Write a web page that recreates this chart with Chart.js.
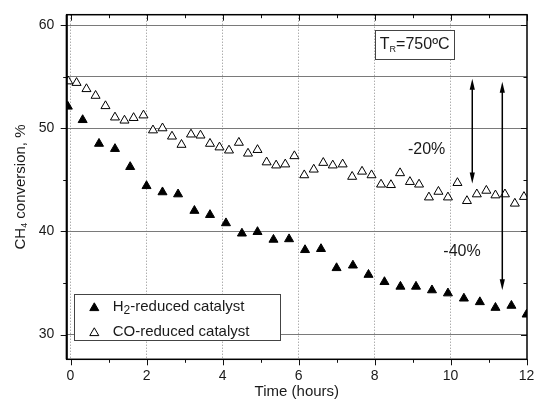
<!DOCTYPE html>
<html>
<head>
<meta charset="utf-8">
<script src="https://cdn.jsdelivr.net/npm/chart.js@4.4.0/dist/chart.umd.min.js"></script>
<style>
  body { margin: 0; background: #fff; }
  #wrap { width: 534px; height: 401px; }
</style>
</head>
<body>
<div id="wrap"><canvas id="convChart" width="534" height="401"></canvas></div>
<script>
// time on stream (hours) and CH4 conversion (%)
var h2Time = [-0.07, 0.32, 0.75, 1.17, 1.57, 2.0, 2.42, 2.83, 3.26, 3.67, 4.09, 4.51, 4.92, 5.34, 5.75,
              6.17, 6.59, 7.0, 7.43, 7.84, 8.26, 8.68, 9.09, 9.51, 9.93, 10.35, 10.77, 11.18, 11.6, 12.0];
var h2Conv = [52.1, 50.8, 48.5, 48.0, 46.25, 44.4, 43.8, 43.6, 42.0, 41.6, 40.8, 39.8, 39.95, 39.2, 39.25,
              38.2, 38.3, 36.45, 36.7, 35.8, 35.1, 34.65, 34.65, 34.3, 34.0, 33.5, 33.15, 32.6, 32.8, 31.95];

var coTime = [-0.06, 0.16, 0.42, 0.66, 0.92, 1.17, 1.42, 1.66, 1.92, 2.17, 2.42, 2.67, 2.92, 3.17, 3.42, 3.67,
              3.92, 4.17, 4.43, 4.67, 4.92, 5.16, 5.41, 5.65, 5.89, 6.15, 6.4, 6.65, 6.9, 7.16, 7.41, 7.67,
              7.92, 8.17, 8.43, 8.67, 8.93, 9.17, 9.43, 9.68, 9.93, 10.18, 10.43, 10.69, 10.94, 11.18, 11.43,
              11.69, 11.93];
var coConv = [54.55, 54.4, 53.8, 53.15, 52.15, 51.05, 50.75, 51.0, 51.25, 49.8, 50.0, 49.2, 48.4, 49.4, 49.3, 48.5,
              48.15, 47.85, 48.6, 47.55, 47.9, 46.7, 46.4, 46.5, 47.3, 45.45, 46.0, 46.65, 46.4, 46.5, 45.3, 45.8,
              45.45, 44.55, 44.5, 45.65, 44.8, 44.55, 43.3, 43.85, 43.3, 44.7, 42.95, 43.6, 43.95, 43.5, 43.6,
              42.7, 43.35];

var xTickValues = [0, 1, 2, 3, 4, 5, 6, 7, 8, 9, 10, 11, 12];
var yTickValues = [30, 35, 40, 45, 50, 55, 60];
var yGridValues = [30, 40, 50, 55, 60];

// drop arrows: [x, yTop, yBottom] and their labels
var dropArrows = [[10.57, 54.8, 44.65], [11.36, 54.5, 34.3]];
var dropLabels = ['-20%', '-40%'];
var dropLabelPos = [[9.37, 47.95], [10.3, 38.0]];

var FONT = 'Arial, "Liberation Sans", sans-serif';

function pts(xs, ys) {
    return xs.map(function (t, i) { return { x: t, y: ys[i] }; });
}

function triangle(ctx, x, y, r, filled) {
    ctx.beginPath();
    for (var k = 0; k < 3; k++) {
        var a = k * 2 * Math.PI / 3;
        var px = x + Math.sin(a) * r, py = y - Math.cos(a) * r;
        if (k === 0) ctx.moveTo(px, py); else ctx.lineTo(px, py);
    }
    ctx.closePath();
    ctx.fillStyle = filled ? '#000' : '#fff';
    ctx.fill();
    ctx.strokeStyle = '#000';
    ctx.lineWidth = 1;
    ctx.stroke();
}

// writes base + subscript + rest starting at x (left aligned, baseline middle)
function subText(ctx, x, y, base, sub, rest, size, subSize, drop) {
    ctx.font = size + 'px ' + FONT;
    ctx.fillText(base, x, y);
    x += ctx.measureText(base).width;
    ctx.font = subSize + 'px ' + FONT;
    ctx.fillText(sub, x, y + drop);
    x += ctx.measureText(sub).width;
    ctx.font = size + 'px ' + FONT;
    ctx.fillText(rest, x, y);
}

function subWidth(ctx, base, sub, rest, size, subSize) {
    ctx.font = size + 'px ' + FONT;
    var w = ctx.measureText(base).width + ctx.measureText(rest).width;
    ctx.font = subSize + 'px ' + FONT;
    return w + ctx.measureText(sub).width;
}

function arrowHead(ctx, x, y, dir) {
    ctx.beginPath();
    ctx.moveTo(x, y);
    ctx.lineTo(x - 2.6, y + dir * 11);
    ctx.lineTo(x + 2.6, y + dir * 11);
    ctx.closePath();
    ctx.fill();
}

var overlay = {
    id: 'overlay',
    afterDraw: function (chart) {
        var ctx = chart.ctx, a = chart.chartArea, xs = chart.scales.x, ys = chart.scales.y;
        ctx.save();

        // tick marks: bottom/left outward, top/right inward
        ctx.strokeStyle = '#111';
        ctx.lineWidth = 1;
        ctx.beginPath();
        xTickValues.forEach(function (v) {
            var px = Math.round(xs.getPixelForValue(v)) + 0.5;
            var len = v % 2 === 0 ? 6 : 3.5;
            ctx.moveTo(px, a.bottom); ctx.lineTo(px, a.bottom + len);
            ctx.moveTo(px, a.top); ctx.lineTo(px, a.top + len);
        });
        yTickValues.forEach(function (v) {
            var py = Math.round(ys.getPixelForValue(v)) + 0.5;
            var len = v % 10 === 0 ? 6 : 3.5;
            ctx.moveTo(a.left, py); ctx.lineTo(a.left - len, py);
            ctx.moveTo(a.right, py); ctx.lineTo(a.right - len, py);
        });
        ctx.stroke();

        // frame
        ctx.lineWidth = 1.5;
        ctx.strokeStyle = '#000';
        ctx.strokeRect(a.left, a.top, a.right - a.left, a.bottom - a.top);
        ctx.lineWidth = 2;
        ctx.beginPath();
        ctx.moveTo(a.left, a.top); ctx.lineTo(a.left, a.bottom);
        ctx.stroke();

        // y axis title with subscript, rotated
        ctx.fillStyle = '#1a1a1a';
        ctx.textBaseline = 'middle';
        ctx.textAlign = 'left';
        ctx.save();
        ctx.translate(21, (a.top + a.bottom) / 2 + 0);
        ctx.rotate(-Math.PI / 2);
        var tw = subWidth(ctx, 'CH', '4', ' conversion, %', 15, 9);
        subText(ctx, -tw / 2, 0, 'CH', '4', ' conversion, %', 15, 9, 4);
        ctx.restore();

        // temperature box
        var bx0 = xs.getPixelForValue(8.01), bx1 = xs.getPixelForValue(10.1);
        var by0 = ys.getPixelForValue(59.55), by1 = ys.getPixelForValue(56.75);
        ctx.fillStyle = '#fff';
        ctx.fillRect(bx0, by0, bx1 - bx0, by1 - by0);
        ctx.lineWidth = 1;
        ctx.strokeStyle = '#444';
        ctx.strokeRect(Math.round(bx0) + 0.5, Math.round(by0) + 0.5, Math.round(bx1 - bx0), Math.round(by1 - by0));
        ctx.fillStyle = '#1a1a1a';
        var tw2 = subWidth(ctx, 'T', 'R', '=750ºC', 16, 9);
        subText(ctx, (bx0 + bx1) / 2 - tw2 / 2, (by0 + by1) / 2, 'T', 'R', '=750ºC', 16, 9, 5);

        // drop arrows
        ctx.strokeStyle = '#000';
        ctx.fillStyle = '#000';
        ctx.lineWidth = 1.5;
        dropArrows.forEach(function (d) {
            var px = xs.getPixelForValue(d[0]);
            var p0 = ys.getPixelForValue(d[1]), p1 = ys.getPixelForValue(d[2]);
            ctx.beginPath();
            ctx.moveTo(px, p0 + 6); ctx.lineTo(px, p1 - 6);
            ctx.stroke();
            arrowHead(ctx, px, p0, 1);
            arrowHead(ctx, px, p1, -1);
        });
        ctx.fillStyle = '#1a1a1a';
        ctx.textAlign = 'center';
        ctx.font = '16px ' + FONT;
        dropLabels.forEach(function (t, i) {
            ctx.fillText(t, xs.getPixelForValue(dropLabelPos[i][0]), ys.getPixelForValue(dropLabelPos[i][1]));
        });

        // legend
        var lx = a.left + 7.6, ly = a.bottom - 65.3, lw = 206.4, lh = 46;
        ctx.fillStyle = '#fff';
        ctx.fillRect(lx, ly, lw, lh);
        ctx.strokeStyle = '#444';
        ctx.lineWidth = 1;
        ctx.strokeRect(Math.round(lx) + 0.5, Math.round(ly) + 0.5, Math.round(lw), Math.round(lh));
        triangle(ctx, lx + 20, ly + 14, 5.2, true);
        triangle(ctx, lx + 20, ly + 39, 5.2, false);
        ctx.fillStyle = '#1a1a1a';
        ctx.textAlign = 'left';
        subText(ctx, lx + 38.4, ly + 13, 'H', '2', '-reduced catalyst', 15, 12, 4);
        ctx.font = '15px ' + FONT;
        ctx.fillText('CO-reduced catalyst', lx + 38.4, ly + 38);

        ctx.restore();
    }
};

var ctx = document.getElementById('convChart').getContext('2d');
var convChart = new Chart(ctx, {
    type: 'scatter',
    data: {
        datasets: [{
            label: 'H2-reduced catalyst',
            data: pts(h2Time, h2Conv),
            pointStyle: 'triangle',
            pointRadius: 5.2,
            pointBackgroundColor: '#000',
            pointBorderColor: '#000',
            pointBorderWidth: 1,
            clip: 0
        }, {
            label: 'CO-reduced catalyst',
            data: pts(coTime, coConv),
            pointStyle: 'triangle',
            pointRadius: 5.2,
            pointBackgroundColor: '#fff',
            pointBorderColor: '#000',
            pointBorderWidth: 1,
            clip: 0
        }]
    },
    options: {
        responsive: false,
        animation: false,
        layout: { padding: { left: 0, right: 7, top: 14.7, bottom: 0 } },
        plugins: { legend: { display: false }, tooltip: { enabled: false } },
        scales: {
            x: {
                type: 'linear',
                min: -0.1,
                max: 12.01,
                afterBuildTicks: function (s) { s.ticks = xTickValues.map(function (v) { return { value: v }; }); },
                afterFit: function (s) { s.height = 41.7; s.paddingLeft = 0; s.paddingRight = 0; },
                ticks: {
                    autoSkip: false,
                    maxRotation: 0,
                    padding: 8,
                    color: '#1a1a1a',
                    font: { family: FONT, size: 14 },
                    callback: function (v) { return v % 2 === 0 ? v : ''; }
                },
                grid: {
                    drawTicks: false,
                    lineWidth: 1,
                    color: function (c) {
                        var v = c.tick ? c.tick.value : -1;
                        return (v % 2 === 0 && v < 12) ? '#8a8a8a' : 'rgba(0,0,0,0)';
                    }
                },
                border: { display: false, dash: [1, 2] },
                title: {
                    display: true,
                    text: 'Time (hours)',
                    color: '#1a1a1a',
                    font: { family: FONT, size: 15 },
                    padding: { top: 0, bottom: 0 }
                }
            },
            y: {
                min: 27.6,
                max: 61,
                afterBuildTicks: function (s) { s.ticks = yTickValues.map(function (v) { return { value: v }; }); },
                afterFit: function (s) { s.width = 66.7; s.paddingTop = 0; s.paddingBottom = 0; },
                ticks: {
                    padding: 12.5,
                    color: '#1a1a1a',
                    font: { family: FONT, size: 14 },
                    callback: function (v) { return v % 10 === 0 ? v : ''; }
                },
                grid: {
                    drawTicks: false,
                    lineWidth: 1,
                    color: function (c) {
                        var v = c.tick ? c.tick.value : -1;
                        return yGridValues.indexOf(v) >= 0 ? '#7a7a7a' : 'rgba(0,0,0,0)';
                    }
                },
                border: { display: false }
            }
        }
    },
    plugins: [overlay]
});
</script>
</body>
</html>
